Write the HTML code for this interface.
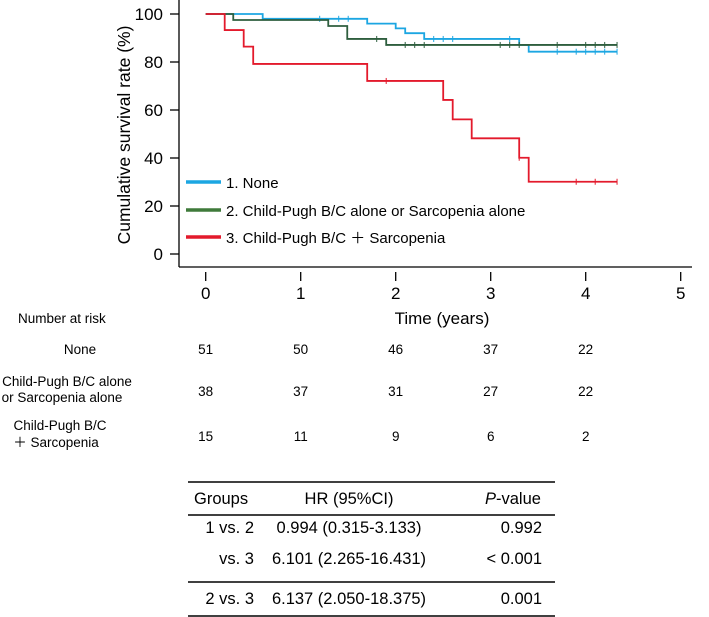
<!DOCTYPE html>
<html><head><meta charset="utf-8"><style>
body{margin:0;background:#fff;}
svg{display:block;font-family:"Liberation Sans",Arial,sans-serif;}
</style></head><body>
<svg id="c" width="709" height="617" viewBox="0 0 709 617">
<g id="axes"></g>
<g id="curves"></g>
<g>
 <line x1="186" y1="182" x2="221" y2="182" stroke="#1ca6e2" stroke-width="3.5"/>
 <text x="226" y="188" font-size="15">1. None</text>
 <line x1="186" y1="210" x2="221" y2="210" stroke="#3f7a3a" stroke-width="3.5"/>
 <text x="226" y="216" font-size="15">2. Child-Pugh B/C alone or Sarcopenia alone</text>
 <line x1="186" y1="237" x2="221" y2="237" stroke="#e31a2c" stroke-width="3.5"/>
 <text x="226" y="243" font-size="15">3. Child-Pugh B/C ＋ Sarcopenia</text>
</g>
<text transform="translate(130,135) rotate(-90)" text-anchor="middle" font-size="17.5">Cumulative survival rate (%)</text>
<text x="442" y="324" text-anchor="middle" font-size="17">Time (years)</text>
<g id="risk" font-size="13.5">
 <text x="18" y="323">Number at risk</text>
 <text x="80" y="354" text-anchor="middle">None</text>
 <text x="67" y="386" text-anchor="middle">Child-Pugh B/C alone</text>
 <text x="62" y="402" text-anchor="middle">or Sarcopenia alone</text>
 <text x="60" y="430" text-anchor="middle">Child-Pugh B/C</text>
 <text x="56" y="447" text-anchor="middle">＋ Sarcopenia</text>
</g>
<g font-size="16.5">
 <line x1="188" y1="482" x2="555" y2="482" stroke="#000" stroke-width="1.5"/>
 <line x1="188" y1="515" x2="555" y2="515" stroke="#000" stroke-width="1.5"/>
 <line x1="188" y1="582" x2="555" y2="582" stroke="#000" stroke-width="1.5"/>
 <line x1="188" y1="616" x2="555" y2="616" stroke="#000" stroke-width="1.5"/>
 <text x="194" y="504">Groups</text><text x="349" y="504" text-anchor="middle">HR (95%CI)</text><text x="485" y="504"><tspan font-style="italic">P</tspan>-value</text>
 <text x="254" y="533" text-anchor="end">1 vs. 2</text><text x="349" y="533" text-anchor="middle">0.994 (0.315-3.133)</text><text x="542" y="533" text-anchor="end">0.992</text>
 <text x="254" y="564" text-anchor="end">vs. 3</text><text x="349" y="564" text-anchor="middle">6.101 (2.265-16.431)</text><text x="542" y="564" text-anchor="end">&lt; 0.001</text>
 <text x="254" y="604" text-anchor="end">2 vs. 3</text><text x="349" y="604" text-anchor="middle">6.137 (2.050-18.375)</text><text x="542" y="604" text-anchor="end">0.001</text>
</g>
</svg>
<script>
const xTicks=[0,1,2,3,4,5];
const yTicks=[0,20,40,60,80,100];
const noneT=[0,0.6,1.7,2.0,2.1,2.3,3.3,3.4,4.33];
const noneS=[100,98,96,94,92,89.6,87.1,84.3,84.3];
const aloneT=[0,0.29,1.29,1.49,1.9,4.33];
const aloneS=[100,97.5,95,89.6,87.1,87.1];
const bothT=[0,0.2,0.4,0.5,1.7,2.5,2.6,2.8,3.3,3.4,4.33];
const bothS=[100,93.3,86.4,79.2,72.1,64.2,56.1,48.2,40.1,30.1,30.1];
const noneCens=[1.2,1.4,1.5,2.4,2.5,2.6,3.2,3.7,3.9,4.0,4.1,4.2,4.33];
const aloneCens=[1.8,2.1,2.2,2.3,3.1,3.2,3.3,3.7,4.0,4.1,4.2,4.33];
const bothCens=[1.9,3.3,3.9,4.1,4.33];
const riskNone=[51,50,46,37,22];
const riskAlone=[38,37,31,27,22];
const riskBoth=[15,11,9,6,2];
const NS="http://www.w3.org/2000/svg";
const X=t=>205.7+t*95, Y=v=>254-v*2.4;
function mk(tag,attrs,parent){const e=document.createElementNS(NS,tag);for(const k in attrs)e.setAttribute(k,attrs[k]);parent.appendChild(e);return e;}
const ax=document.getElementById('axes');
mk('line',{x1:179,y1:0,x2:179,y2:267,stroke:'#000','stroke-width':1.3},ax);
mk('line',{x1:179,y1:267,x2:692,y2:267,stroke:'#000','stroke-width':1.3},ax);
yTicks.forEach(v=>{
 mk('line',{x1:170,y1:Y(v),x2:179,y2:Y(v),stroke:'#000','stroke-width':1.3},ax);
 const t=mk('text',{x:163,y:Y(v)+6,'text-anchor':'end','font-size':17},ax);t.textContent=v;
 
 
});
xTicks.forEach(v=>{
 mk('line',{x1:X(v),y1:272,x2:X(v),y2:281,stroke:'#000','stroke-width':1.3},ax);
 const t=mk('text',{x:X(v),y:299,'text-anchor':'middle','font-size':17},ax);t.textContent=v;
 
 
});
const cg=document.getElementById('curves');
function curve(T,S,C,col,name){
 let d='M'+X(T[0])+','+Y(S[0]);
 for(let i=1;i<T.length;i++){d+=' H'+X(T[i])+' V'+Y(S[i]);}
 const p=mk('path',{d:d,fill:'none',stroke:col,'stroke-width':1.8},cg);
 
 
 C.forEach(c=>{let s=S[0];for(let i=0;i<T.length;i++)if(T[i]<=c)s=S[i];
  const m=mk('line',{x1:X(c),y1:Y(s)-3,x2:X(c),y2:Y(s)+3,stroke:col,'stroke-width':1},cg);
  
  });
}
curve(noneT,noneS,noneCens,'#1ca6e2','curve-none');
curve(aloneT,aloneS,aloneCens,'#2e5e3e','curve-alone');
curve(bothT,bothS,bothCens,'#e31a2c','curve-both');
const rg=document.getElementById('risk');
[[riskNone,354],[riskAlone,396],[riskBoth,441]].forEach(([arr,y])=>arr.forEach((n,i)=>{
 const t=mk('text',{x:X(xTicks[i]),y:y,'text-anchor':'middle'},rg);t.textContent=n;
 
 
}));
</script>
</body></html>
